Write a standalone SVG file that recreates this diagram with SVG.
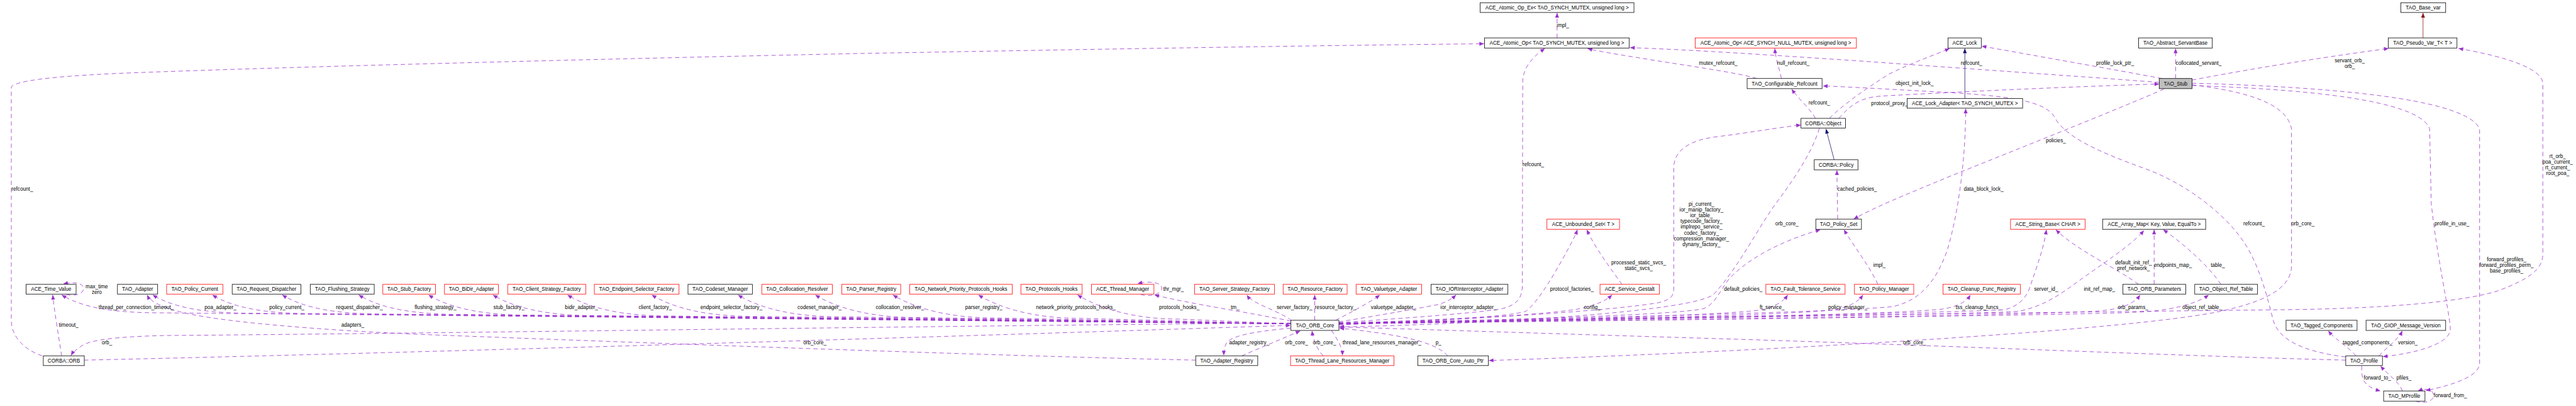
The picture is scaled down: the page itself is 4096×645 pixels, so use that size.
<svg xmlns="http://www.w3.org/2000/svg" width="4096" height="645" viewBox="0 0 4096 645">
<style>
text{font-family:"Liberation Sans",Arial,Helvetica,sans-serif;font-size:13.2px;fill:#000}
.n rect{fill:#fff;stroke:#000;stroke-width:1.3}
.n.r rect{stroke:#ff0000}
.n.s rect{fill:#bfbfbf}
.n text{text-anchor:middle}
.e path{fill:none;stroke:#9a32cd;stroke-width:1.3;stroke-dasharray:11 8;marker-end:url(#ah)}
.e text{text-anchor:middle}
.e.i path{stroke:#191970;stroke-dasharray:none;marker-end:url(#ahn)}
.e.t path{stroke:#8b1a1a;stroke-dasharray:none;marker-end:url(#ahr)}
</style>
<defs>
<marker id="ah" markerUnits="userSpaceOnUse" markerWidth="12" markerHeight="10" viewBox="0 0 12 10" refX="12" refY="5" orient="auto" overflow="visible"><path d="M0,0 L12,5 L0,10 z" fill="#9a32cd"/></marker>
<marker id="ahn" markerUnits="userSpaceOnUse" markerWidth="12" markerHeight="10" viewBox="0 0 12 10" refX="12" refY="5" orient="auto" overflow="visible"><path d="M0,0 L12,5 L0,10 z" fill="#191970"/></marker>
<marker id="ahr" markerUnits="userSpaceOnUse" markerWidth="12" markerHeight="10" viewBox="0 0 12 10" refX="12" refY="5" orient="auto" overflow="visible"><path d="M0,0 L12,5 L0,10 z" fill="#8b1a1a"/></marker>
</defs>
<rect x="0" y="0" width="4096" height="645" fill="#fff"/>
<g transform="scale(0.620512)">
<g id="edges">
<g class="e"><path d="M3990,97 L3990,33"/><text x="4005" y="68.6">impl_</text></g>
<g class="e"><path d="M108,911 C60,895 29,860 29,820 L29,222 C45,205 150,195 300,188 C700,172 1500,152 2200,137 C2800,126 3400,116 3803,112"/><text x="57" y="487.6">refcount_</text></g>
<g class="e"><path d="M4502,201 C4450,185 4300,165 4200,148 C4130,137 4090,130 4068,124"/><text x="4403" y="165.6">mutex_refcount_</text></g>
<g class="e"><path d="M4565,201 C4558,170 4550,150 4548,124"/><text x="4595" y="165.6">null_refcount_</text></g>
<g class="e"><path d="M5533,211 C5350,197 5100,180 4750,155 C4550,142 4350,128 4177,122"/><text x="5052" y="165.6">refcount_</text></g>
<g class="e i"><path d="M5035,252 L5035,124"/></g>
<g class="e"><path d="M4688,303 C4720,270 4780,228 4840,190 C4900,160 4960,140 4996,124"/><text x="4906" y="217.6">object_init_lock_</text></g>
<g class="e"><path d="M5540,201 C5400,175 5200,140 5078,118"/><text x="5420" y="165.6">profile_lock_ptr_</text></g>
<g class="e"><path d="M4652,303 C4640,280 4610,255 4591,228"/><text x="4662" y="267.6">refcount_</text></g>
<g class="e"><path d="M4712,303 C4740,272 4762,250 4820,246 C5000,236 5300,222 5533,215"/><text x="4842" y="268.6">protocol_proxy_</text></g>
<g class="e"><path d="M3431,832 C3700,820 4100,800 4250,775 C4280,768 4289,758 4289,740 L4289,430 C4289,385 4330,358 4400,350 C4480,340 4560,326 4615,320"/>
<text x="4360" y="527.6">pi_current_</text><text x="4360" y="541.6">ior_manip_factory_</text><text x="4360" y="556.3">ior_table_</text><text x="4360" y="571.3">typecode_factory_</text><text x="4360" y="585.6">implrepo_service_</text><text x="4360" y="600.6">codec_factory_</text><text x="4360" y="615.3">compression_manager_</text><text x="4360" y="629.6">dynany_factory_</text></g>
<g class="e"><path d="M4662,329 C4640,400 4585,475 4544,530 C4490,610 4450,690 4390,755 C4320,800 3800,830 3432,837"/><text x="4579" y="577.6">orb_core_</text></g>
<g class="e i"><path d="M4700,409 L4679,330"/></g>
<g class="e"><path d="M4709,561 L4707,436"/><text x="4759" y="487.6">cached_policies_</text></g>
<g class="e"><path d="M5545,228 C5450,270 5200,370 5000,450 C4880,500 4800,532 4750,561"/><text x="5268" y="364.6">policies_</text></g>
<g class="e"><path d="M3431,828 C4000,815 4700,800 4850,785 C4920,770 4962,720 4990,640 C5020,540 5037,400 5037,278"/><text x="5083" y="487.6">data_block_lock_</text></g>
<g class="e"><path d="M5617,205 C5800,170 6000,140 6121,124"/><text x="6021" y="159.6">servant_orb_</text><text x="6021" y="173.6">orb_</text></g>
<g class="e"><path d="M3431,826 C4300,812 5200,800 5850,793 C6100,790 6300,775 6400,745 C6480,715 6516,690 6516,650 L6516,215 C6516,175 6420,145 6300,124"/><text x="6554" y="404.6">rt_orb_</text><text x="6554" y="419.6">poa_current_</text><text x="6554" y="433.6">rt_current_</text><text x="6554" y="447.6">root_poa_</text></g>
<g class="e"><path d="M5575,201 L5575,124"/><text x="5634" y="165.6">collocated_servant_</text></g>
<g class="e t"><path d="M6209,97 L6209,33"/></g>
<g class="e"><path d="M6011,914 C5900,900 5840,870 5825,820 C5810,760 5790,680 5750,620 C5700,545 5600,470 5500,433 C5380,390 5290,350 5265,300 C5240,258 5150,245 4961,235 C4850,229 4750,223 4671,220"/><text x="5776" y="577.6">refcount_</text></g>
<g class="e"><path d="M5617,217 C5760,235 5860,265 5872,330 L5872,680 C5872,740 5800,775 5675,800 C5400,852 4400,905 3815,923"/><text x="5901" y="577.6">orb_core_</text></g>
<g class="e"><path d="M5617,219 C5900,228 6200,255 6226,330 L6230,520 C6245,660 6275,790 6279,840 C6282,880 6190,905 6106,913"/><text x="6283" y="577.6">profile_in_use_</text></g>
<g class="e"><path d="M5617,213 C5950,222 6320,250 6354,330 L6354,930 C6354,962 6290,985 6216,1000"/><text x="6423" y="668.6">forward_profiles_</text><text x="6423" y="683.6">forward_profiles_perm_</text><text x="6423" y="697.6">base_profiles_</text></g>
<g class="e"><path d="M6037,911 C6020,890 5985,870 5966,847"/><text x="6067" y="881.6">tagged_components_</text></g>
<g class="e"><path d="M6096,911 C6115,890 6145,870 6156,847"/><text x="6170" y="881.6">version_</text></g>
<g class="e"><path d="M6156,1001 C6150,980 6120,960 6100,937"/><text x="6160" y="971.6">pfiles_</text></g>
<g class="e"><path d="M6052,937 C6050,975 6060,990 6100,1001"/><text x="6092" y="971.6">forward_to_</text></g>
<g class="e"><path d="M6190,1027 C6215,1036 6238,1025 6236,1011 C6234,996 6215,993 6196,1001"/><text x="6279" y="1017.6">forward_from_</text></g>
<g class="e"><path d="M170,754 C195,760 215,750 214,738 C213,724 190,721 162,727"/><text x="248" y="737.6">max_time</text><text x="248" y="752.6">zero</text></g>
<g class="e"><path d="M2923,754 C2952,762 2978,750 2977,738 C2976,722 2945,719 2915,726"/><text x="3007" y="744.6">thr_mgr_</text></g>
<g class="e"><path d="M158,911 C150,860 140,800 135,755"/><text x="176" y="836.6">timeout_</text></g>
<g class="e"><path d="M3064,922 C2500,910 1500,872 1100,857 C800,845 550,822 460,798 C412,785 385,772 377,755"/><text x="904" y="836.6">adapters_</text></g>
<g class="e"><path d="M216,922 C1000,905 2500,860 3307,833"/><text x="2088" y="881.6">orb_core_</text></g>
<g class="e"><path d="M3308,827 C2500,833 1000,855 421,859 C300,862 232,870 210,885 C195,895 186,903 182,910"/><text x="274" y="881.6">orb_</text></g>
<g class="e"><path d="M3182,911 C3230,890 3285,868 3332,847"/><text x="3322" y="881.6">orb_core_</text></g>
<g class="e"><path d="M3308,840 C3200,850 3150,862 3142,880 C3137,890 3136,900 3136,910"/><text x="3201" y="881.6">adapter_registry_</text></g>
<g class="e"><path d="M3391,911 C3375,895 3365,870 3362,847"/><text x="3394" y="881.6">orb_core_</text></g>
<g class="e"><path d="M3412,846 C3428,870 3440,890 3440,910"/><text x="3541" y="881.6">thread_lane_resources_manager_</text></g>
<g class="e"><path d="M3710,911 C3680,880 3620,860 3432,840"/><text x="3686" y="881.6">p_</text></g>
<g class="e"><path d="M6011,922 C5600,912 5000,885 4400,867 C4000,855 3600,842 3432,837"/><text x="4906" y="881.6">orb_core_</text></g>
<g class="e"><path d="M3308,829 L418,801 C308,801 218,792 158,755"/><text x="349" y="791.6">thread_per_connection_timeout_</text></g>
<g class="e"><path d="M3308,829 L651,802 C541,802 451,792 391,755"/><text x="565" y="791.6">poa_adapter_</text></g>
<g class="e"><path d="M3308,829 L804,803 C694,803 604,792 544,755"/><text x="735" y="791.6">policy_current_</text></g>
<g class="e"><path d="M3308,829 L983,804 C873,804 783,792 723,755"/><text x="921" y="791.6">request_dispatcher_</text></g>
<g class="e"><path d="M3308,829 L1179,805 C1069,805 979,792 919,755"/><text x="1116" y="791.6">flushing_strategy_</text></g>
<g class="e"><path d="M3308,829 L1358,807 C1248,807 1158,792 1098,755"/><text x="1304" y="791.6">stub_factory_</text></g>
<g class="e"><path d="M3308,829 L1523,808 C1413,808 1323,792 1263,755"/><text x="1490" y="791.6">bidir_adapter_</text></g>
<g class="e"><path d="M3308,829 L1714,809 C1604,809 1514,792 1454,755"/><text x="1679" y="791.6">client_factory_</text></g>
<g class="e"><path d="M3308,829 L1930,810 C1820,810 1730,792 1670,755"/><text x="1874" y="791.6">endpoint_selector_factory_</text></g>
<g class="e"><path d="M3308,829 L2151,811 C2041,811 1951,792 1891,755"/><text x="2100" y="791.6">codeset_manager_</text></g>
<g class="e"><path d="M3308,829 L2349,813 C2239,813 2149,792 2089,755"/><text x="2306" y="791.6">collocation_resolver_</text></g>
<g class="e"><path d="M3308,829 L2548,814 C2438,814 2348,792 2288,755"/><text x="2521" y="791.6">parser_registry_</text></g>
<g class="e"><path d="M3308,829 L2767,815 C2657,815 2567,792 2507,755"/><text x="2757" y="791.6">network_priority_protocols_hooks_</text></g>
<g class="e"><path d="M3308,829 L3021,817 C2911,817 2821,792 2761,755"/><text x="3022" y="791.6">protocols_hooks_</text></g>
<g class="e"><path d="M3308,822 C3200,800 3050,778 2958,755"/><text x="3165" y="791.6">tm_</text></g>
<g class="e"><path d="M3310,821 C3290,805 3250,790 3230,780 C3212,771 3201,764 3195,755"/><text x="3317" y="791.6">server_factory_</text></g>
<g class="e"><path d="M3369,820 L3369,755"/><text x="3422" y="791.6">resource_factory_</text></g>
<g class="e"><path d="M3423,820 C3460,800 3510,775 3536,755"/><text x="3571" y="791.6">valuetype_adapter_</text></g>
<g class="e"><path d="M3431,824 C3520,810 3620,792 3679,781 C3702,776 3720,766 3731,755"/><text x="3763" y="791.6">ior_interceptor_adapter_</text></g>
<g class="e"><path d="M3431,826 C3600,815 3800,800 3850,790 C3890,780 3901,760 3901,730 L3902,210 C3902,180 3920,150 3959,124"/><text x="3929" y="425.6">refcount_</text></g>
<g class="e"><path d="M3431,828 C3700,818 3860,812 3910,797 C3945,770 3990,690 4025,625 C4033,610 4038,600 4042,588"/><text x="4028" y="744.6">protocol_factories_</text></g>
<g class="e"><path d="M3431,830 C3700,820 3950,806 4040,792 C4090,782 4115,770 4131,755"/><text x="4080" y="791.6">config_</text></g>
<g class="e"><path d="M4156,728 C4130,690 4090,640 4066,588"/><text x="4199" y="676.6">processed_static_svcs_</text><text x="4199" y="691.6">static_svcs_</text></g>
<g class="e"><path d="M3431,829 C3900,818 4300,806 4366,790 C4395,778 4405,748 4430,715 C4480,660 4570,615 4665,588"/><text x="4467" y="744.6">default_policies_</text></g>
<g class="e"><path d="M3431,830 C4000,820 4450,806 4520,792 C4550,784 4570,772 4581,755"/><text x="4541" y="791.6">ft_service_</text></g>
<g class="e"><path d="M3431,829 C4000,820 4600,807 4700,793 C4740,786 4762,772 4774,755"/><text x="4735" y="791.6">policy_manager_</text></g>
<g class="e"><path d="M4812,728 C4790,680 4750,630 4725,588"/><text x="4816" y="683.6">impl_</text></g>
<g class="e"><path d="M3431,829 C4200,818 4850,806 4980,791 C5020,784 5040,771 5049,755"/><text x="5070" y="791.6">tss_cleanup_funcs_</text></g>
<g class="e"><path d="M3431,828 C4200,815 5000,801 5137,793 C5170,785 5190,765 5200,740 C5220,680 5236,640 5244,588"/><text x="5243" y="744.6">server_id_</text></g>
<g class="e"><path d="M3431,828 C4300,815 5050,805 5172,797 C5230,786 5270,760 5312,730 C5380,680 5460,630 5494,590"/><text x="5380" y="744.6">init_ref_map_</text></g>
<g class="e"><path d="M3431,829 C4300,818 5200,808 5380,796 C5440,791 5470,776 5484,755"/><text x="5466" y="791.6">orb_params_</text></g>
<g class="e"><path d="M3431,829 C4400,818 5400,806 5500,798 C5580,791 5630,776 5660,755"/><text x="5643" y="791.6">object_ref_table_</text></g>
<g class="e"><path d="M5480,728 C5430,690 5320,640 5268,588"/><text x="5467" y="676.6">default_init_ref_</text><text x="5467" y="691.6">pref_network_</text></g>
<g class="e"><path d="M5520,728 L5520,588"/><text x="5568" y="683.6">endpoints_map_</text></g>
<g class="e"><path d="M5691,728 C5660,680 5590,620 5543,588"/><text x="5683" y="683.6">table_</text></g>
</g>
<g id="nodes">
<g id="n_atomic_op_ex" class="n"><rect x="3793" y="7" width="394" height="25"/><text x="3990" y="24.1">ACE_Atomic_Op_Ex&lt; TAO_SYNCH_MUTEX, unsigned long &gt;</text></g>
<g id="n_base_var" class="n"><rect x="6152" y="7" width="115" height="25"/><text x="6209.5" y="24.1">TAO_Base_var</text></g>
<g id="n_atomic_op" class="n"><rect x="3804" y="97" width="371" height="26"/><text x="3989.5" y="114.6">ACE_Atomic_Op&lt; TAO_SYNCH_MUTEX, unsigned long &gt;</text></g>
<g id="n_atomic_op_null" class="n r"><rect x="4344" y="97" width="413" height="26"/><text x="4550.5" y="114.6">ACE_Atomic_Op&lt; ACE_SYNCH_NULL_MUTEX, unsigned long &gt;</text></g>
<g id="n_ace_lock" class="n"><rect x="4992" y="97" width="85" height="26"/><text x="5034.5" y="114.6">ACE_Lock</text></g>
<g id="n_servant_base" class="n"><rect x="5480" y="97" width="189" height="26"/><text x="5574.5" y="114.6">TAO_Abstract_ServantBase</text></g>
<g id="n_pseudo_var" class="n"><rect x="6120" y="97" width="176" height="26"/><text x="6208" y="114.6">TAO_Pseudo_Var_T&lt; T &gt;</text></g>
<g id="n_conf_refcount" class="n"><rect x="4477" y="201" width="192" height="26"/><text x="4573" y="218.6">TAO_Configurable_Refcount</text></g>
<g id="n_tao_stub" class="n s"><rect x="5533" y="201" width="84" height="26"/><text x="5575" y="218.6">TAO_Stub</text></g>
<g id="n_lock_adapter" class="n"><rect x="4887" y="252" width="296" height="25"/><text x="5035" y="269.1">ACE_Lock_Adapter&lt; TAO_SYNCH_MUTEX &gt;</text></g>
<g id="n_corba_object" class="n"><rect x="4615" y="303" width="114" height="25"/><text x="4672" y="320.1">CORBA::Object</text></g>
<g id="n_corba_policy" class="n"><rect x="4649" y="409" width="112" height="26"/><text x="4705" y="426.6">CORBA::Policy</text></g>
<g id="n_unbounded_set" class="n r"><rect x="3964" y="561" width="186" height="26"/><text x="4057" y="578.6">ACE_Unbounded_Set&lt; T &gt;</text></g>
<g id="n_policy_set" class="n"><rect x="4653" y="561" width="117" height="26"/><text x="4711.5" y="578.6">TAO_Policy_Set</text></g>
<g id="n_string_base" class="n r"><rect x="5152" y="561" width="191" height="26"/><text x="5247.5" y="578.6">ACE_String_Base&lt; CHAR &gt;</text></g>
<g id="n_array_map" class="n"><rect x="5388" y="561" width="264" height="26"/><text x="5520" y="578.6">ACE_Array_Map&lt; Key, Value, EqualTo &gt;</text></g>
<g id="n_time_value" class="n"><rect x="67" y="728" width="128" height="25"/><text x="131" y="745.1">ACE_Time_Value</text></g>
<g id="n_adapter" class="n"><rect x="301" y="728" width="103" height="25"/><text x="352.5" y="745.1">TAO_Adapter</text></g>
<g id="n_policy_current" class="n r"><rect x="427" y="728" width="144" height="25"/><text x="499" y="745.1">TAO_Policy_Current</text></g>
<g id="n_request_dispatcher" class="n"><rect x="595" y="728" width="176" height="25"/><text x="683" y="745.1">TAO_Request_Dispatcher</text></g>
<g id="n_flushing_strategy" class="n"><rect x="795" y="728" width="164" height="25"/><text x="877" y="745.1">TAO_Flushing_Strategy</text></g>
<g id="n_stub_factory" class="n r"><rect x="981" y="728" width="135" height="25"/><text x="1048.5" y="745.1">TAO_Stub_Factory</text></g>
<g id="n_bidir_adapter" class="n r"><rect x="1139" y="728" width="138" height="25"/><text x="1208" y="745.1">TAO_BiDir_Adapter</text></g>
<g id="n_client_strategy_factory" class="n r"><rect x="1301" y="728" width="200" height="25"/><text x="1401" y="745.1">TAO_Client_Strategy_Factory</text></g>
<g id="n_endpoint_selector_factory" class="n r"><rect x="1523" y="728" width="217" height="25"/><text x="1631.5" y="745.1">TAO_Endpoint_Selector_Factory</text></g>
<g id="n_codeset_manager" class="n"><rect x="1763" y="728" width="165" height="25"/><text x="1845.5" y="745.1">TAO_Codeset_Manager</text></g>
<g id="n_collocation_resolver" class="n r"><rect x="1952" y="728" width="181" height="25"/><text x="2042.5" y="745.1">TAO_Collocation_Resolver</text></g>
<g id="n_parser_registry" class="n r"><rect x="2157" y="728" width="151" height="25"/><text x="2232.5" y="745.1">TAO_Parser_Registry</text></g>
<g id="n_np_protocols_hooks" class="n r"><rect x="2331" y="728" width="263" height="25"/><text x="2462.5" y="745.1">TAO_Network_Priority_Protocols_Hooks</text></g>
<g id="n_protocols_hooks" class="n r"><rect x="2616" y="728" width="157" height="25"/><text x="2694.5" y="745.1">TAO_Protocols_Hooks</text></g>
<g id="n_thread_manager" class="n r"><rect x="2797" y="728" width="160" height="25"/><text x="2877" y="745.1">ACE_Thread_Manager</text></g>
<g id="n_server_strategy_factory" class="n r"><rect x="3061" y="728" width="205" height="25"/><text x="3163.5" y="745.1">TAO_Server_Strategy_Factory</text></g>
<g id="n_resource_factory" class="n r"><rect x="3288" y="728" width="164" height="25"/><text x="3370" y="745.1">TAO_Resource_Factory</text></g>
<g id="n_valuetype_adapter" class="n r"><rect x="3475" y="728" width="168" height="25"/><text x="3559" y="745.1">TAO_Valuetype_Adapter</text></g>
<g id="n_iorinterceptor_adapter" class="n"><rect x="3667" y="728" width="197" height="25"/><text x="3765.5" y="745.1">TAO_IORInterceptor_Adapter</text></g>
<g id="n_service_gestalt" class="n r"><rect x="4100" y="728" width="152" height="25"/><text x="4176" y="745.1">ACE_Service_Gestalt</text></g>
<g id="n_ft_service" class="n r"><rect x="4525" y="728" width="203" height="25"/><text x="4626.5" y="745.1">TAO_Fault_Tolerance_Service</text></g>
<g id="n_policy_manager" class="n r"><rect x="4752" y="728" width="152" height="25"/><text x="4828" y="745.1">TAO_Policy_Manager</text></g>
<g id="n_cleanup_func_registry" class="n r"><rect x="4979" y="728" width="198" height="25"/><text x="5078" y="745.1">TAO_Cleanup_Func_Registry</text></g>
<g id="n_orb_parameters" class="n"><rect x="5440" y="728" width="161" height="25"/><text x="5520.5" y="745.1">TAO_ORB_Parameters</text></g>
<g id="n_object_ref_table" class="n"><rect x="5624" y="728" width="161" height="25"/><text x="5704.5" y="745.1">TAO_Object_Ref_Table</text></g>
<g id="n_orb_core" class="n"><rect x="3308" y="820" width="123" height="26"/><text x="3369.5" y="837.6">TAO_ORB_Core</text></g>
<g id="n_tagged_components" class="n"><rect x="5858" y="820" width="182" height="26"/><text x="5949" y="837.6">TAO_Tagged_Components</text></g>
<g id="n_giop_message_version" class="n"><rect x="6063" y="820" width="204" height="26"/><text x="6165" y="837.6">TAO_GIOP_Message_Version</text></g>
<g id="n_corba_orb" class="n"><rect x="111" y="911" width="105" height="25"/><text x="163.5" y="928.1">CORBA::ORB</text></g>
<g id="n_adapter_registry" class="n"><rect x="3064" y="911" width="159" height="25"/><text x="3143.5" y="928.1">TAO_Adapter_Registry</text></g>
<g id="n_thread_lane" class="n r"><rect x="3307" y="911" width="265" height="25"/><text x="3439.5" y="928.1">TAO_Thread_Lane_Resources_Manager</text></g>
<g id="n_orb_core_auto_ptr" class="n"><rect x="3633" y="911" width="181" height="25"/><text x="3723.5" y="928.1">TAO_ORB_Core_Auto_Ptr</text></g>
<g id="n_profile" class="n"><rect x="6011" y="911" width="94" height="25"/><text x="6058" y="928.1">TAO_Profile</text></g>
<g id="n_mprofile" class="n"><rect x="6108" y="1001" width="106" height="26"/><text x="6161" y="1018.6">TAO_MProfile</text></g>
</g>
</g>
</svg>
